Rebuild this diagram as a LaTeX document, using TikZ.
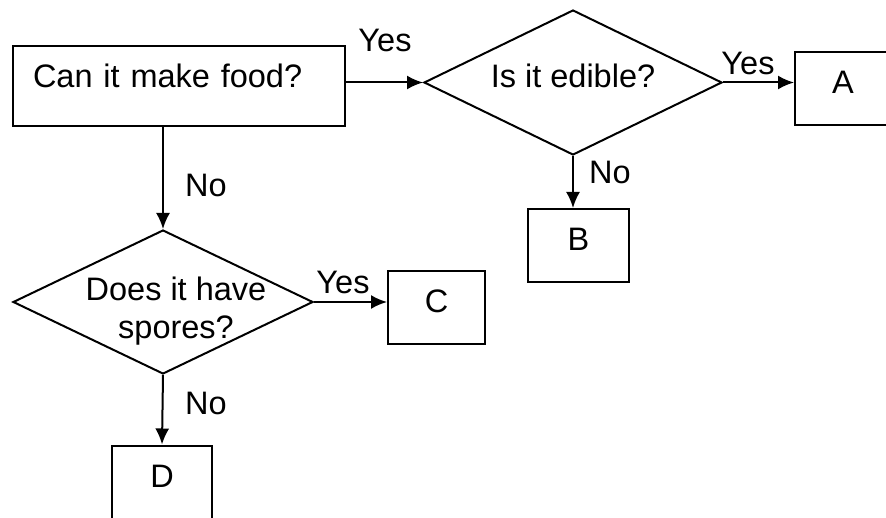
\documentclass[tikz,border=0pt]{standalone}
\usepackage{fontspec}
\setmainfont{Liberation Sans}
\usetikzlibrary{shapes.geometric,arrows.meta}
\begin{document}
\begin{tikzpicture}[x=1pt,y=-1pt,line width=2pt,
	font=\fontsize{32.5}{38}\selectfont,
	box/.style={draw,rectangle,inner sep=0pt,text depth=12pt,minimum height=73pt},
	decision/.style={draw,diamond,aspect=2,inner sep=0pt},
	arr/.style={-{Latex[length=16pt,width=14pt]}},
	lab/.style={inner sep=0pt}]
	\useasboundingbox (0,0) rectangle (886,518);
	% questions
	\node[draw,rectangle,inner xsep=20pt,inner ysep=0pt,text width=292pt,align=left,text height=42pt,text depth=38pt] (food) at (179,86) {Can it make food?};
	\node[decision,minimum width=298pt,minimum height=145pt,
		label={[lab,yshift=7pt]center:Is it edible?}] (edible) at (573,82.5) {};
	\node[decision,minimum width=300pt,minimum height=144pt,
		label={[lab,align=center,xshift=13pt,yshift=-9pt]center:Does it have\\spores?}] (spores) at (163,302) {};
	% answers
	\node[box,minimum width=96pt] (A) at (843,88.5) {A};
	\node[box,minimum width=101pt] (B) at (578.5,245.5) {B};
	\node[box,minimum width=97pt] (C) at (436.5,307.5) {C};
	\node[box,minimum width=100pt] (D) at (162,482) {D};
	% connectors
	\draw[arr] (food.east |- edible.west) -- (edible.west);
	\draw[arr] (edible.east) -- (A.west |- edible.east);
	\draw[arr] (edible.south) -- (edible.south |- B.north);
	\draw[arr] (food.south -| spores.north) -- (spores.north);
	\draw[arr] (spores.east) -- (C.west |- spores.east);
	\draw[arr] (spores.south) -- (D.north);
	% labels
	\node[lab] (yesfood) at (385,40) {Yes};
	\node[lab] (yesedible) at (748,63) {Yes};
	\node[lab] (noedible) at (610,172) {No};
	\node[lab] (nofood) at (206,185) {No};
	\node[lab] (yesspores) at (343,282) {Yes};
	\node[lab] (nospores) at (206,403) {No};
\end{tikzpicture}
\end{document}
